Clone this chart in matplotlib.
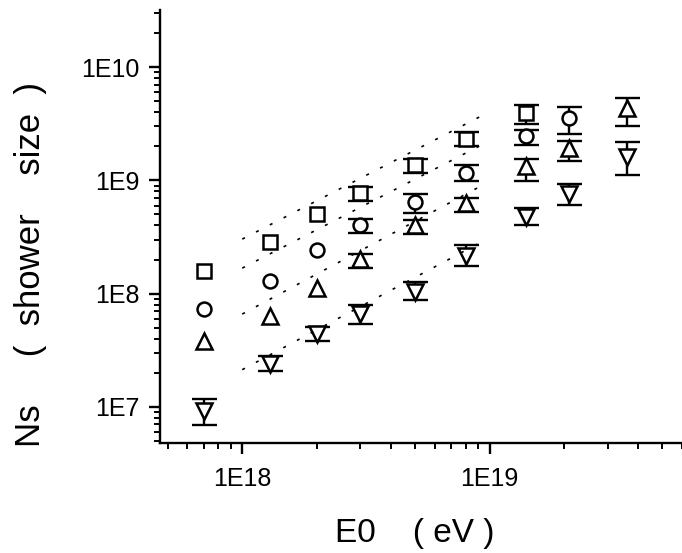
import numpy as np
import matplotlib
matplotlib.use("Agg")
import matplotlib.pyplot as plt
from matplotlib.ticker import LogLocator, NullFormatter, FixedLocator, FixedFormatter

plt.rcParams['font.family'] = ['Liberation Sans', 'DejaVu Sans']

nan = np.nan
# primary energy columns (eV)
energy = [7e17, 1.3e18, 2e18, 3e18, 5e18, 8e18, 1.4e19, 2.1e19, 3.6e19]

# squares
sq_n = [1.57e8, 2.87e8, 5.1e8, 7.7e8, 1.37e9, 2.34e9, 3.93e9]
sq_lo = [nan, nan, nan, 6.56e8, 1.17e9, 2.01e9, 3.17e9]
sq_hi = [nan, nan, nan, 8.8e8, 1.54e9, 2.66e9, 4.64e9]
# circles
ci_n = [7.27e7, 1.28e8, 2.43e8, 4.02e8, 6.5e8, 1.17e9, 2.45e9, 3.55e9]
ci_lo = [nan, nan, nan, 3.40e8, 5.19e8, 9.8e8, 2.07e9, 2.59e9]
ci_hi = [nan, nan, nan, 4.59e8, 7.6e8, 1.36e9, 2.81e9, 4.43e9]
# up triangles
tu_n = [3.85e7, 6.36e7, 1.12e8, 2.03e8, 4.0e8, 6.3e8, 1.33e9, 1.94e9, 4.35e9]
tu_lo = [nan, nan, nan, 1.68e8, 3.35e8, 5.26e8, 9.8e8, 1.48e9, 3.0e9]
tu_hi = [nan, nan, nan, 2.23e8, 4.45e8, 7.0e8, 1.56e9, 2.25e9, 5.3e9]
# down triangles
td_n = [9.1e6, 2.4e7, 4.4e7, 6.58e7, 1.04e8, 2.17e8, 4.75e8, 7.6e8, 1.62e9]
td_lo = [6.97e6, 2.07e7, 3.85e7, 5.38e7, 8.8e7, 1.77e8, 4.07e8, 6.1e8, 1.11e9]
td_hi = [1.17e7, 2.79e7, 5.1e7, 8.0e7, 1.26e8, 2.69e8, 5.7e8, 9.2e8, 2.18e9]

# dotted fit lines
fit_e = [1e18, 9.3e18]
fit_sq = [3.03e8, 3.72e9]
fit_ci = [1.68e8, 2.06e9]
fit_tu = [6.6e7, 9.0e8]
fit_td = [2.13e7, 2.87e8]

fig = plt.figure(figsize=(6.82, 5.53), dpi=100)
ax = fig.add_axes([0.2346, 0.199, 0.7654, 0.783])

series = [
    (sq_n, sq_lo, sq_hi, 's', 9.5),
    (ci_n, ci_lo, ci_hi, 'o', 10),
    (tu_n, tu_lo, tu_hi, '^', 11),
    (td_n, td_lo, td_hi, 'v', 11),
]
for n, lo, hi, mk, ms in series:
    x = np.array(energy[:len(n)])
    y = np.array(n)
    err = [y - np.array(lo), np.array(hi) - y]
    ax.errorbar(x, y, yerr=err, fmt='none', ecolor='black', elinewidth=1.7,
                capsize=9, capthick=1.7, zorder=2)
    ax.plot(x, y, linestyle='none', marker=mk, markersize=ms,
            markerfacecolor='white', markeredgecolor='black',
            markeredgewidth=1.8, zorder=3)

for fy in [fit_sq, fit_ci, fit_tu, fit_td]:
    ax.plot(fit_e, fy, color='black', linewidth=1.2,
            linestyle=(0, (1.8, 7.5)), zorder=4)

ax.set_xscale('log')
ax.set_yscale('log')
ax.set_xlim(4.65e17, 6e19)
ax.set_ylim(4.8e6, 3.2e10)

ax.spines['top'].set_visible(False)
ax.spines['right'].set_visible(False)
ax.spines['left'].set_linewidth(1.7)
ax.spines['bottom'].set_linewidth(1.7)

ax.xaxis.set_major_locator(FixedLocator([1e18, 1e19]))
ax.xaxis.set_major_formatter(FixedFormatter(['1E18', '1E19']))
ax.xaxis.set_minor_locator(LogLocator(base=10, subs=np.arange(2, 10), numticks=20))
ax.xaxis.set_minor_formatter(NullFormatter())
ax.yaxis.set_major_locator(FixedLocator([1e7, 1e8, 1e9, 1e10]))
ax.yaxis.set_major_formatter(FixedFormatter(['1E7', '1E8', '1E9', '1E10']))
ax.yaxis.set_minor_locator(LogLocator(base=10, subs=np.arange(2, 10), numticks=20))
ax.yaxis.set_minor_formatter(NullFormatter())

ax.tick_params(axis='both', which='major', direction='out', length=8, width=1.7,
               labelsize=18)
ax.tick_params(axis='both', which='minor', direction='out', length=4.5, width=1.4)
ax.tick_params(axis='x', which='major', pad=9)
ax.tick_params(axis='y', which='major', pad=7)

fig.text(0.6085, 0.02, 'E0    ( eV )', fontsize=24, ha='center', va='baseline')
fig.text(0.044, 0.522, 'Ns     (  shower    size  )', fontsize=25, rotation=90,
         ha='center', va='center')

fig.savefig('out.png', dpi=100)
